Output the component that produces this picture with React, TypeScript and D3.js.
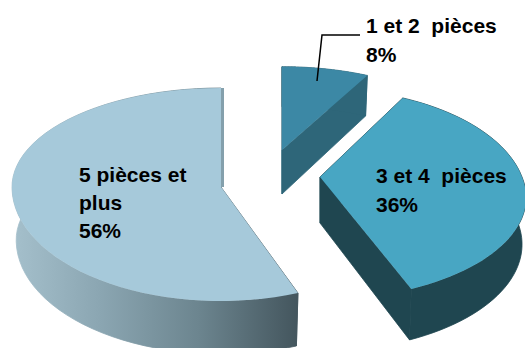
import React from "react";
import * as d3 from "d3";

// Share of dwellings by number of rooms, drawn as an exploded 3D pie.
const categories = ["1 et 2  pièces", "3 et 4  pièces", "5 pièces et plus"];
const shares = [8, 36, 56];
const labelLines = [["1 et 2  pièces", "8%"], ["3 et 4  pièces", "36%"], ["5 pièces et", "plus", "56%"]];

const W = 525;
const H = 348;

// Per-slice projection: exploded apex, ellipse radii, perspective strength, extrusion depth.
const frames = [
  { cx: 282, cy: 150, rx: 208, ryBack: 100, ryFront: 100, k: 0.2, depth: 44 },
  { cx: 320, cy: 177, rx: 202, ryBack: 106, ryFront: 98, k: 0.2, depth: 46 },
  { cx: 221, cy: 187, rx: 209, ryBack: 99, ryFront: 114, k: 0, depth: 53 },
];
const topColors = ["#3c88a5", "#48a6c3", "#a6c9da"];
const wallColors = ["#2e6679", "#1f4650", "url(#wallShade)"];
const labelX = [366, 376, 79];
const labelY = [33, 183, 182];
const labelStep = [29, 29, 28];

type Frame = (typeof frames)[number];

// Perspective projection of a point on the unit disc, optionally dropped to the pie's base.
function project(f: Frame, angle: number, r: number, lower: boolean): [number, number] {
  const u = Math.sin(angle) * r;
  const v = -Math.cos(angle) * r;
  const sc = 1 / (1 - f.k * v);
  const ry = v < 0 ? f.ryBack : f.ryFront;
  const shrink = lower ? 0.98 : 1;
  return [
    f.cx + f.rx * u * sc * shrink,
    f.cy + ry * v * sc + (lower ? f.depth * Math.sqrt(sc) : 0),
  ];
}

export default function App() {
  const pie = d3.pie<number>().sort(null).value((d) => d);
  const arcs = pie(shares);
  const line = d3.line();

  const sweep = (f: Frame, a0: number, a1: number, lower: boolean) =>
    d3.range(0, 61).map((i) => project(f, a0 + ((a1 - a0) * i) / 60, 1, lower));

  const slices = arcs.map((a, i) => {
    const f = frames[i];
    const upper = sweep(f, a.startAngle, a.endAngle, false);
    const lowerArc = sweep(f, a.startAngle, a.endAngle, true);
    const apex = project(f, 0, 0, false);
    const apexLow = project(f, 0, 0, true);
    return {
      top: line([apex, ...upper])! + "Z",
      outer: line([...upper, ...lowerArc.slice().reverse()])! + "Z",
      cutA: line([apex, upper[0], lowerArc[0], apexLow])! + "Z",
      cutB: line([apex, upper[60], lowerArc[60], apexLow])! + "Z",
      strip: i === 2 ? line([apex, upper[60]])! : null,
    };
  });

  // Paint order: walls first, then the top face of each slice over them.
  return (
    <svg
      width={W}
      height={H}
      viewBox={`0 0 ${W} ${H}`}
      style={{ position: "absolute", left: 0, top: 0, background: "#fff" }}
    >
      <defs>
        <linearGradient id="wallShade" gradientUnits="userSpaceOnUse" x1={15} x2={297} y1={0} y2={0}>
          <stop offset="0" stopColor="#a4bfcb" />
          <stop offset="0.3" stopColor="#8ba6b2" />
          <stop offset="0.65" stopColor="#6c858f" />
          <stop offset="1" stopColor="#44565e" />
        </linearGradient>
      </defs>
      {slices.map((s, i) => (
        <g key={categories[i]}>
          <g fill={wallColors[i]} stroke={wallColors[i]} strokeWidth={0.8}>
            <path d={s.cutA} />
            <path d={s.cutB} />
            <path d={s.outer} />
          </g>
          {s.strip && (
            <path d={s.strip} transform="translate(1.5,0)" fill="none" stroke="#84a0ac" strokeWidth={3} />
          )}
          <path d={s.top} fill={topColors[i]} />
        </g>
      ))}
      <path d="M360,35H322L317,81" fill="none" stroke="#000" strokeWidth={1.5} />
      {labelLines.map((lines, i) => (
        <text
          key={i}
          fontFamily="'Liberation Sans', Arial, sans-serif"
          fontWeight="bold"
          fontSize={21}
          fill="#000"
          style={{ whiteSpace: "pre" }}
        >
          {lines.map((t, j) => (
            <tspan key={j} x={labelX[i]} y={labelY[i] + j * labelStep[i]}>
              {t}
            </tspan>
          ))}
        </text>
      ))}
    </svg>
  );
}
